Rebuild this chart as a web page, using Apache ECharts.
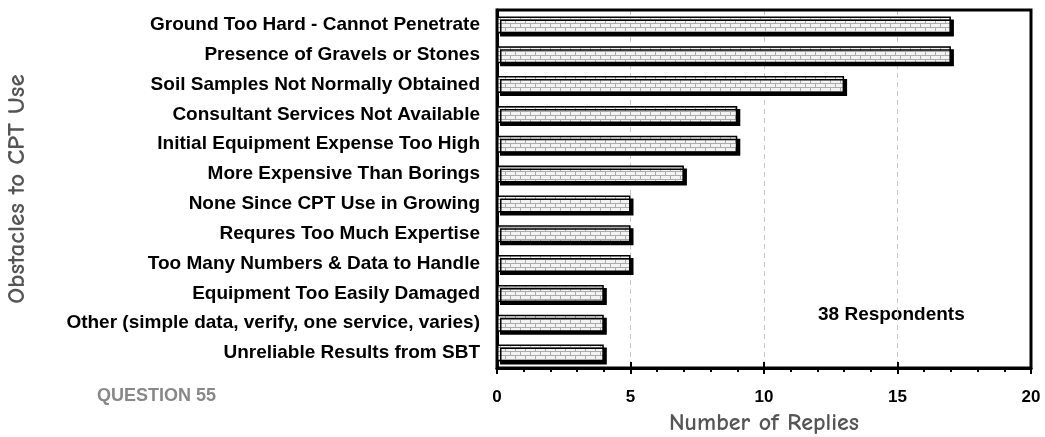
<!DOCTYPE html>
<html><head><meta charset="utf-8">
<script src="https://cdn.jsdelivr.net/npm/echarts@6/dist/echarts.min.js"></script>
<style>html,body{margin:0;padding:0;background:#fff}#c{width:1045px;height:437px}</style>
</head><body><div id="c"></div>
<script>
const categories = [
  "Ground Too Hard - Cannot Penetrate",
  "Presence of Gravels or Stones",
  "Soil Samples Not Normally Obtained",
  "Consultant Services Not Available",
  "Initial Equipment Expense Too High",
  "More Expensive Than Borings",
  "None Since CPT Use in Growing",
  "Requres Too Much Expertise",
  "Too Many Numbers & Data to Handle",
  "Equipment Too Easily Damaged",
  "Other (simple data, verify, one service, varies)",
  "Unreliable Results from SBT"
];
const replies = [17, 17, 13, 9, 9, 7, 5, 5, 5, 4, 4, 4];
const xTicks = [0, 5, 10, 15, 20];

// brick pattern
const pc = document.createElement('canvas');
pc.width = 10; pc.height = 8;
const g = pc.getContext('2d');
g.fillStyle = '#f3f3f3'; g.fillRect(0,0,10,8);
g.fillStyle = '#ababab';
g.fillRect(0,3,10,1); g.fillRect(0,7,10,1);
g.fillRect(0,0,1,3); g.fillRect(5,4,1,3);

const chart = echarts.init(document.getElementById('c'), null, {renderer:'canvas'});
const axisFont = '"Comic Sans MS", "Comic Neue", "DejaVu Sans", sans-serif';
const labFont = '"Liberation Sans", Arial, sans-serif';
chart.setOption({
  animation:false,
  grid:{left:497, top:10, width:534, height:358, containLabel:false, outerBoundsMode:'none'},
  xAxis:[{
    type:'value', min:0, max:20, interval:5,
    name:'Number of Replies', nameLocation:'middle', nameGap:43,
    nameTextStyle:{fontFamily:axisFont, fontSize:24, color:'#555', fontWeight:'bold'},
    axisLine:{show:true, lineStyle:{color:'#000', width:3}},
    axisTick:{show:true, length:6, lineStyle:{color:'#000', width:2}},
    minorTick:{show:true, splitNumber:5, length:4, lineStyle:{color:'#000', width:2}},
    axisLabel:{color:'#000', fontWeight:'bold', fontSize:17, fontFamily:labFont, margin:21,
      formatter:v => xTicks.includes(v) ? String(v) : ''},
    splitLine:{show:true, lineStyle:{color:'#c8c8c8', type:[5,4], width:1}}
  },{
    type:'value', min:0, max:20, interval:5, position:'bottom',
    axisLine:{show:false},
    axisTick:{show:true, inside:true, length:6, lineStyle:{color:'#000', width:2}},
    axisLabel:{show:false}, splitLine:{show:false}
  }],
  yAxis:[{
    type:'category', data:categories, inverse:true,
    name:'Obstacles to CPT Use', nameLocation:'middle', nameGap:468, nameRotate:90,
    nameTextStyle:{fontFamily:axisFont, fontSize:25, color:'#555', fontWeight:'bold'},
    axisLine:{show:true, lineStyle:{color:'#000', width:3}},
    axisTick:{show:false},
    axisLabel:{color:'#000', fontWeight:'bold', fontSize:19, fontFamily:labFont, margin:17}
  }],
  graphic:[
    {type:'rect', shape:{x:497, y:10, width:534, height:358}, style:{fill:'none', stroke:'#000', lineWidth:3}, z:1, silent:true},
    {type:'text', left:97, top:387, style:{text:'QUESTION 55', fontFamily:labFont, fontWeight:'bold', fontSize:18, fill:'#888'}},
    {type:'text', left:818, top:305, style:{text:'38 Respondents', fontFamily:labFont, fontWeight:'bold', fontSize:19, fill:'#000'}}
  ],
  series:[{
    type:'bar', data:replies, barWidth:17, xAxisIndex:0,
    itemStyle:{color:{image:pc, repeat:'repeat'}, borderColor:'#000', borderWidth:1.5,
      shadowColor:'#000', shadowOffsetX:3, shadowOffsetY:3, shadowBlur:0},
    z:3
  }]
});
</script></body></html>
